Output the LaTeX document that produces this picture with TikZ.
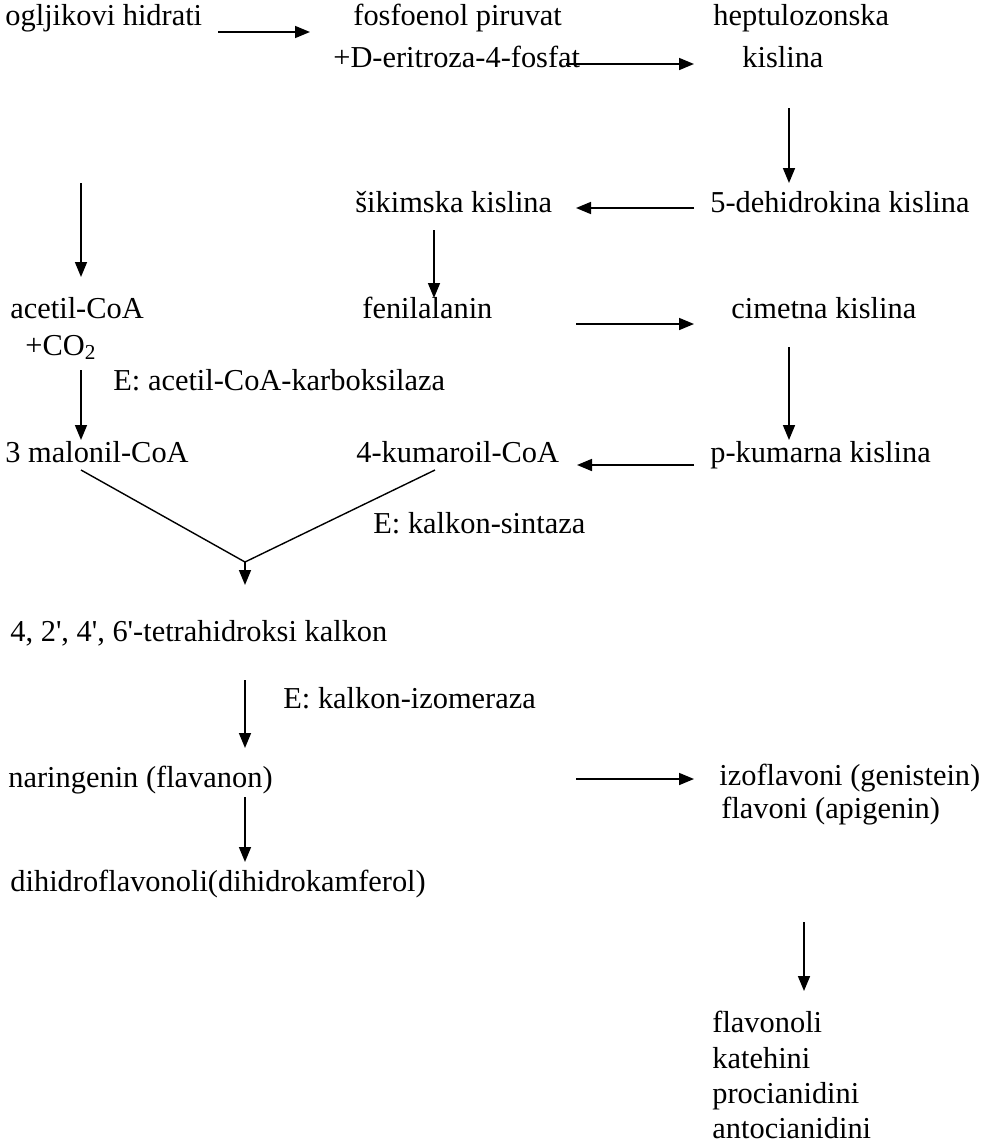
\documentclass[tikz,border=0pt]{standalone}
\usepackage{fontspec}
\setmainfont{Liberation Serif}
\usetikzlibrary{arrows.meta}

\tikzset{
  lbl/.style={anchor=west, inner sep=0pt, text height=0.7em, text depth=0.2em},
  arr/.style={-{Triangle[length=7.5pt,width=6pt]}, line width=0.8pt},
  vline/.style={line width=0.7pt},
}

\begin{document}
\begin{tikzpicture}[x=0.5pt, y=-0.5pt, font=\fontsize{15.2}{17.5}\selectfont]
    \useasboundingbox (0,0) rectangle (988,1147);

    % names of the compounds
    \node[lbl] (ogh) at (5,20) {ogljikovi hidrati};
    \node[lbl] (fpv) at (353,20) {fosfoenol piruvat};
    \node[lbl] (eri) at (333,62) {+D-eritroza-4-fosfat};
    \node[lbl] (hep) at (713,20) {heptulozonska};
    \node[lbl] (hepk) at (742,62) {kislina};
    \node[lbl] (sik) at (355,207) {šikimska kislina};
    \node[lbl] (dhk) at (710,207) {5-dehidrokina kislina};
    \node[lbl] (acoa) at (10,313) {acetil-CoA};
    \node[lbl] (co2) at (25,350) {+CO\textsubscript{2}};
    \node[lbl] (fen) at (362,313) {fenilalanin};
    \node[lbl] (cim) at (731,313) {cimetna kislina};
    \node[lbl] (mal) at (5,457) {3 malonil-CoA};
    \node[lbl] (kum) at (356,457) {4-kumaroil-CoA};
    \node[lbl] (pkum) at (710,457) {p-kumarna kislina};
    \node[lbl] (tet) at (10,636) {4, 2\textquotesingle, 4\textquotesingle, 6\textquotesingle-tetrahidroksi kalkon};
    \node[lbl] (nar) at (8,782) {naringenin (flavanon)};
    \node[lbl] (izo) at (719,780) {izoflavoni (genistein)};
    \node[lbl] (fla) at (721,813) {flavoni (apigenin)};
    \node[lbl] (dih) at (10,886) {dihidroflavonoli(dihidrokamferol)};
    \node[lbl] (fvl) at (712,1027) {flavonoli};
    \node[lbl] (kat) at (712,1063) {katehini};
    \node[lbl] (pro) at (712,1098) {procianidini};
    \node[lbl] (ant) at (712,1133) {antocianidini};

    % enzymes
    \node[lbl] (eacc) at (113,385) {E: acetil-CoA-karboksilaza};
    \node[lbl] (eks) at (373,528) {E: kalkon-sintaza};
    \node[lbl] (eki) at (283,703) {E: kalkon-izomeraza};

    % arrow ends
    \coordinate (a1) at (218,32);  \coordinate (b1) at (310,32);
    \coordinate (a2) at (566,64);  \coordinate (b2) at (694,64);
    \coordinate (a3) at (789,108); \coordinate (b3) at (789,183);
    \coordinate (a4) at (694,208); \coordinate (b4) at (576,208);
    \coordinate (a5) at (81,183);  \coordinate (b5) at (81,277);
    \coordinate (a6) at (434,230); \coordinate (b6) at (434,298);
    \coordinate (a7) at (576,324); \coordinate (b7) at (694,324);
    \coordinate (a8) at (81,370);  \coordinate (b8) at (81,440);
    \coordinate (a9) at (789,347); \coordinate (b9) at (789,440);
    \coordinate (a10) at (694,465); \coordinate (b10) at (577,465);
    \coordinate (vl) at (81,470);  \coordinate (vr) at (435,470);
    \coordinate (vx) at (245,562); \coordinate (vt) at (245,585);
    \coordinate (a11) at (245,680); \coordinate (b11) at (245,748);
    \coordinate (a12) at (576,779); \coordinate (b12) at (694,779);
    \coordinate (a13) at (245,797); \coordinate (b13) at (245,862);
    \coordinate (a14) at (804,922); \coordinate (b14) at (804,991);

    \draw[arr] (a1) -- (b1);
    \draw[arr] (a2) -- (b2);
    \draw[arr] (a3) -- (b3);
    \draw[arr] (a4) -- (b4);
    \draw[arr] (a5) -- (b5);
    \draw[arr] (a6) -- (b6);
    \draw[arr] (a7) -- (b7);
    \draw[arr] (a8) -- (b8);
    \draw[arr] (a9) -- (b9);
    \draw[arr] (a10) -- (b10);
    \draw[vline] (vl) -- (vx) -- (vr);
    \draw[arr] (vx) -- (vt);
    \draw[arr] (a11) -- (b11);
    \draw[arr] (a12) -- (b12);
    \draw[arr] (a13) -- (b13);
    \draw[arr] (a14) -- (b14);
\end{tikzpicture}
\end{document}
